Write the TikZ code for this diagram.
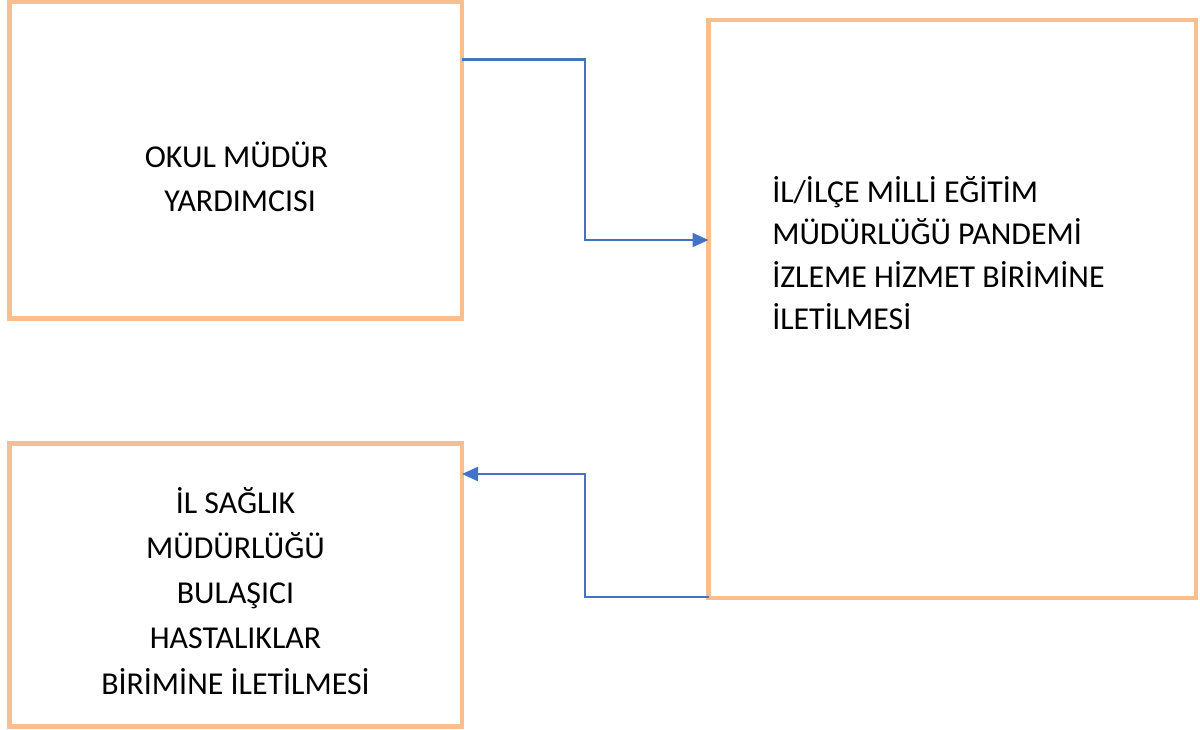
\documentclass[tikz,border=0pt]{standalone}
\usepackage{fontspec}
\setmainfont{Carlito}
\usepackage{tikz}
\usetikzlibrary{arrows.meta}
\usetikzlibrary{calc}

\definecolor{boxorange}{RGB}{248,190,141}
\definecolor{flowblue}{RGB}{68,114,196}
\newdimen\px \px=0.75pt

\tikzset{
  kutu/.style={draw=boxorange, line width=4.5\px, inner sep=0pt, outer sep=0pt, rectangle},
  yazi/.style={inner sep=0pt, font=\fontsize{23.9}{#1}\selectfont},
  yazi/.default=33pt,
  akis/.style={draw=flowblue, line width=1.6pt, -{Triangle[length=12pt,width=10.5pt]}}
}

\begin{document}
\begin{tikzpicture}[x=0.75pt,y=-0.75pt]
  \useasboundingbox (0,0) rectangle (1200,729);
  \node [kutu, minimum width=452.5\px, minimum height=316.5\px] (okul) at (235.75,160.25) {};
  \node [kutu, minimum width=487.5\px, minimum height=578\px] (ilce) at (952.25,309) {};
  \node [kutu, minimum width=452.5\px, minimum height=283\px] (saglik) at (235.75,585) {};
  \node [yazi=33.2pt, align=center] (okulyazi) at (236.5,177) {OKUL MÜDÜR\\\ YARDIMCISI};
  \node [yazi=31.8pt, align=left, anchor=west] (ilceyazi) at (772,253) {İL/İLÇE MİLLİ EĞİTİM\\MÜDÜRLÜĞÜ PANDEMİ\\İZLEME HİZMET BİRİMİNE\\İLETİLMESİ};
  \node [yazi=33.8pt, align=center] (saglikyazi) at (235.5,591) {İL SAĞLIK\\MÜDÜRLÜĞÜ\\BULAŞICI\\HASTALIKLAR\\BİRİMİNE İLETİLMESİ};
  \coordinate (k1) at (585,59.5);
  \coordinate (k2) at (585,240);
  \coordinate (k3) at (585,597);
  \coordinate (k4) at (585,474);
  \draw [akis] (okul.east |- k1) -- (k1) -- (k2) -- (ilce.west |- k2);
  \draw [akis] (ilce.west |- k3) -- (k3) -- (k4) -- (saglik.east |- k4);
\end{tikzpicture}
\end{document}
